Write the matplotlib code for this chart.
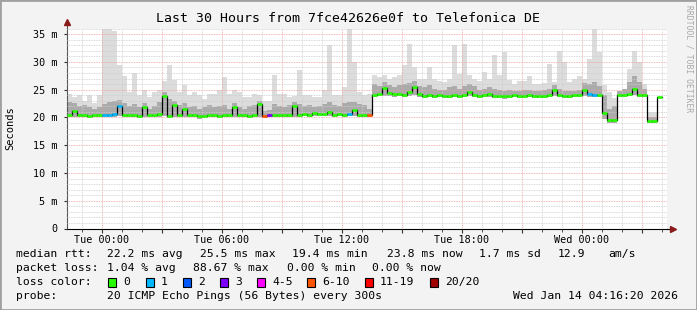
import numpy as np
import pandas as pd
import matplotlib
matplotlib.use("Agg")
import matplotlib.pyplot as plt
import matplotlib.dates as mdates
from matplotlib.patches import Rectangle
from matplotlib.ticker import MultipleLocator, FuncFormatter

plt.rcParams["font.family"] = "DejaVu Sans Mono"

title = "Last 30 Hours from 7fce42626e0f to Telefonica DE"
start = "2026-01-12 22:16:20"
step_min = 15

# median rtt per 15 min bin (ms)
med = [20.5, 21.2, 20.4, 20.4, 20.3, 20.4, 20.4, 20.5, 20.5, 20.6,
       22.0, 20.5, 20.4, 20.4, 20.3, 21.8, 20.4, 20.5, 20.6, 23.8,
       20.3, 22.3, 20.5, 21.5, 20.4, 20.4, 20.2, 20.3, 20.4, 20.4,
       20.3, 20.4, 20.4, 21.9, 20.4, 20.4, 20.3, 20.4, 22.4, 20.3,
       20.4, 20.4, 20.4, 20.5, 20.4, 22.0, 20.5, 20.6, 20.5, 20.8,
       20.7, 20.6, 21.0, 20.5, 20.6, 20.4, 20.6, 21.4, 20.5, 20.4,
       20.4, 24.0, 24.3, 25.3, 24.4, 24.2, 24.3, 24.0, 24.5, 25.4,
       24.2, 23.9, 24.1, 23.9, 24.0, 23.9, 23.9, 24.0, 23.9, 24.0,
       24.5, 24.0, 23.9, 24.0, 24.2, 23.9, 23.9, 23.8, 23.9, 24.0,
       23.9, 23.9, 24.0, 23.9, 23.9, 23.9, 24.0, 25.0, 24.0, 23.9,
       23.9, 24.0, 24.0, 25.0, 24.2, 24.1, 24.0, 20.8, 19.6, 19.6,
       24.0, 24.0, 24.3, 25.2, 24.1, 24.0, 19.4, 19.3, 23.7, np.nan]

# lowest ping per bin
lo = [20.0, 20.1, 20.0, 20.0, 19.9, 20.0, 20.0, 20.1, 20.1, 20.1,
      20.2, 20.0, 20.0, 20.0, 19.9, 20.1, 20.0, 20.0, 20.1, 20.2,
      19.9, 20.1, 20.0, 20.1, 20.0, 20.0, 19.8, 19.9, 20.0, 20.0,
      19.9, 20.0, 20.0, 20.1, 20.0, 20.0, 19.9, 20.0, 20.1, 19.9,
      20.0, 20.0, 20.0, 20.1, 20.0, 20.1, 20.1, 20.2, 20.1, 20.3,
      20.2, 20.2, 20.3, 20.1, 20.2, 20.0, 20.2, 20.3, 20.1, 20.0,
      20.0, 23.6, 23.8, 23.9, 23.9, 23.7, 23.8, 23.6, 23.9, 24.0,
      23.7, 23.5, 23.6, 23.5, 23.6, 23.5, 23.5, 23.6, 23.5, 23.6,
      23.9, 23.6, 23.5, 23.6, 23.7, 23.5, 23.5, 23.4, 23.5, 23.6,
      23.5, 23.5, 23.6, 23.5, 23.5, 23.5, 23.6, 23.9, 23.6, 23.5,
      23.5, 23.6, 23.6, 23.9, 23.7, 23.6, 23.6, 19.8, 19.0, 19.0,
      23.6, 23.6, 23.8, 24.0, 23.6, 23.6, 19.0, 19.0, 23.3, np.nan]

# upper edge of the darker smoke
mid = [22.8, 22.6, 22.0, 22.2, 21.8, 21.6, 21.8, 22.4, 22.8, 23.0,
       23.2, 22.6, 22.0, 22.4, 21.8, 22.6, 21.6, 22.0, 22.8, 24.6,
       23.4, 23.0, 22.2, 22.6, 21.8, 22.0, 21.6, 21.8, 22.2, 21.8,
       22.0, 22.2, 21.6, 22.6, 21.8, 21.6, 22.0, 22.2, 23.0, 21.2,
       21.4, 22.4, 22.0, 21.8, 22.2, 22.8, 22.4, 22.0, 22.2, 21.8,
       22.0, 22.4, 22.8, 22.2, 22.0, 22.6, 22.8, 22.8, 22.4, 22.2,
       21.6, 26.0, 25.6, 26.4, 25.8, 25.4, 25.8, 26.0, 26.2, 26.6,
       25.6, 25.4, 25.8, 25.2, 25.0, 25.0, 25.4, 25.6, 25.2, 25.6,
       26.0, 25.6, 25.0, 25.2, 25.4, 25.2, 25.0, 24.8, 25.0, 24.8,
       24.8, 24.9, 25.0, 24.8, 24.7, 25.0, 25.2, 25.8, 25.2, 24.8,
       24.7, 24.8, 25.0, 26.2, 26.0, 26.4, 25.6, 24.0, 21.5, 22.0,
       24.8, 25.2, 26.4, 27.4, 26.4, 25.2, 20.0, 20.0, 24.6, np.nan]

# highest ping per bin
hi = [24.3, 23.7, 24.0, 23.0, 24.0, 22.6, 24.0, 36.0, 36.0, 35.5,
      29.5, 27.5, 24.5, 28.0, 24.0, 25.0, 23.6, 24.5, 25.0, 26.6,
      29.5, 26.7, 24.6, 25.8, 24.0, 24.6, 24.0, 23.4, 24.3, 24.3,
      24.9, 27.2, 24.3, 24.9, 24.6, 23.6, 23.6, 24.2, 24.0, 23.0,
      23.0, 27.6, 24.3, 24.3, 23.6, 23.8, 28.5, 24.0, 24.0, 23.6,
      23.6, 25.0, 33.0, 24.0, 24.0, 25.5, 36.0, 30.0, 24.5, 24.0,
      24.3, 27.6, 27.2, 27.6, 27.0, 27.2, 27.6, 29.5, 33.3, 29.0,
      27.0, 27.0, 29.0, 27.0, 26.6, 26.4, 27.0, 33.0, 27.8, 33.3,
      27.6, 27.0, 26.6, 28.2, 27.0, 31.2, 27.6, 31.8, 26.8, 26.0,
      26.6, 26.6, 27.5, 26.0, 26.0, 26.2, 29.7, 26.4, 32.0, 30.0,
      26.4, 27.0, 27.5, 27.0, 30.5, 36.0, 31.8, 25.8, 24.6, 23.5,
      24.6, 25.0, 28.8, 32.0, 30.0, 26.0, 21.0, 21.0, 25.5, np.nan]

# lost pings out of 20 per bin
loss = [0, 0, 0, 0, 0, 0, 0, 1, 1, 1,
        1, 0, 0, 0, 0, 0, 0, 0, 0, 0,
        0, 0, 0, 0, 0, 0, 0, 0, 0, 0,
        0, 0, 0, 0, 0, 0, 0, 0, 0, 8,
        3, 0, 0, 0, 0, 0, 0, 0, 0, 0,
        0, 0, 0, 0, 0, 0, 1, 0, 0, 0,
        8, 0, 0, 0, 0, 0, 0, 0, 0, 0,
        0, 0, 0, 0, 0, 0, 0, 0, 0, 0,
        0, 0, 0, 0, 0, 0, 0, 0, 0, 0,
        0, 0, 0, 0, 0, 0, 0, 0, 0, 0,
        0, 0, 0, 0, 1, 1, 0, 0, 0, 0,
        0, 0, 0, 0, 0, 0, 0, 0, 0, 0]

loss_max = [0, 1, 2, 3, 5, 10, 19, 20]
loss_labels = ["0", "1", "2", "3", "4-5", "6-10", "11-19", "20/20"]
loss_colors = ["#26ff00", "#00b8ff", "#0059ff", "#7e00ff",
               "#ff00ff", "#ff5500", "#ff0000", "#a00000"]

rtt_stats = ["22.2 ms avg", "25.5 ms max", "19.4 ms min", "23.8 ms now",
             "1.7 ms sd", "12.9", "am/s"]
loss_stats = ["1.04 % avg", "88.67 % max", "0.00 % min", "0.00 % now"]
probe = "20 ICMP Echo Pings (56 Bytes) every 300s"
stamp = "Wed Jan 14 04:16:20 2026"

W, H = 697, 310
fig = plt.figure(figsize=(W / 100, H / 100), dpi=100, facecolor="#f3f3f3")


def fx(x):
    return x / W


def fy(y):
    return 1 - y / H


ax = fig.add_axes([fx(67), fy(228.5), 600 / W, 200 / H])
ax.set_facecolor("white")

t0 = pd.Timestamp(start)
times = t0 + pd.to_timedelta(np.arange(len(med)) * step_min, unit="min")
x = mdates.date2num(times.to_pydatetime())
dx = step_min / (24 * 60)
edges = np.append(x, x[-1] + dx)


def ext(a):
    a = np.asarray(a, dtype=float)
    return np.append(a, a[-1])


ax.fill_between(edges, ext(lo), ext(hi), step="post", color="#dcdcdc", lw=0, zorder=1)
ax.fill_between(edges, ext(lo), ext(mid), step="post", color="#ababab", lw=0, zorder=1.2)

ax.plot(x + dx / 2, med, drawstyle="steps-mid", color="black", lw=0.9, zorder=3)
cols = []
for v in loss:
    k = next(j for j, m in enumerate(loss_max) if v <= m)
    cols.append(loss_colors[k])
ax.hlines(med, x, x + dx, colors=cols, lw=1.9, zorder=4)

ax.set_xlim(mdates.date2num(t0.to_pydatetime()),
            mdates.date2num((t0 + pd.Timedelta(hours=30)).to_pydatetime()))
ax.set_ylim(0, 36)

ax.xaxis.set_major_locator(mdates.HourLocator(byhour=range(0, 24, 3)))
ax.xaxis.set_minor_locator(mdates.HourLocator())


def xlab(v, pos):
    d = mdates.num2date(v)
    return d.strftime("%a %H:%M") if d.hour % 6 == 0 else ""


ax.xaxis.set_major_formatter(FuncFormatter(xlab))
ax.yaxis.set_major_locator(MultipleLocator(5))
ax.yaxis.set_minor_locator(MultipleLocator(1))
ax.yaxis.set_major_formatter(FuncFormatter(lambda v, p: "0" if v == 0 else f"{v:.0f} m"))

ax.set_axisbelow(False)
ax.grid(which="minor", color="#cdcdcd", linestyle=(0, (1, 1)), lw=0.6)
ax.grid(which="major", color="#f0a0a0", linestyle=(0, (1, 1)), lw=0.6)

ax.tick_params(axis="both", which="both", labelsize=7.3, colors="#333333",
               labelcolor="black", direction="out")
ax.tick_params(axis="x", which="major", length=3, pad=2)
ax.tick_params(axis="x", which="minor", length=2)
ax.tick_params(axis="y", which="major", length=2, pad=5)
ax.tick_params(axis="y", which="minor", length=0)

for s in ("top", "right"):
    ax.spines[s].set_visible(False)
ax.spines["left"].set_color("#555555")
ax.spines["bottom"].set_color("black")
ax.spines["left"].set_linewidth(0.8)
ax.spines["bottom"].set_linewidth(0.8)

# axis arrows
ax.plot([0, 0], [1, 1.03], transform=ax.transAxes, color="#555555", lw=0.8, clip_on=False)
ax.plot([0], [1.035], transform=ax.transAxes, marker="^", color="#8b1a1a", ms=4, clip_on=False)
ax.plot([1, 1.008], [0, 0], transform=ax.transAxes, color="black", lw=0.8, clip_on=False)
ax.plot([1.01], [0], transform=ax.transAxes, marker=">", color="#8b1a1a", ms=4, clip_on=False)

fig.text(0.5, fy(19), title, ha="center", va="center", fontsize=9.5)
fig.text(fx(10), fy(128), "Seconds", rotation=90, ha="center", va="center", fontsize=7.5)
fig.text(fx(689), fy(5), "RRDTOOL / TOBI OETIKER", rotation=270, ha="center", va="top",
         fontsize=5.8, color="#a8a8a8")

fs = 8.2
rows = [254, 268, 282, 296]
fig.text(fx(16), fy(rows[0]), "median rtt:", va="center", fontsize=fs)
for s, xp in zip(rtt_stats, [107, 200, 292, 387, 479, 558, 608]):
    fig.text(fx(xp), fy(rows[0]), s, va="center", fontsize=fs)
fig.text(fx(16), fy(rows[1]), "packet loss:", va="center", fontsize=fs)
for s, xp in zip(loss_stats, [107, 193, 287, 372]):
    fig.text(fx(xp), fy(rows[1]), s, va="center", fontsize=fs)
fig.text(fx(16), fy(rows[2]), "loss color:", va="center", fontsize=fs)
box_x = [108, 146, 183, 220, 257, 307, 365, 430]
for bx, c, lab in zip(box_x, loss_colors, loss_labels):
    fig.patches.append(Rectangle((fx(bx), fy(rows[2] + 4.5)), 8 / W, 9 / H,
                                 transform=fig.transFigure, facecolor=c,
                                 edgecolor="black", lw=0.8))
    fig.text(fx(bx + 15), fy(rows[2]), lab, va="center", fontsize=fs)
fig.text(fx(16), fy(rows[3]), "probe:", va="center", fontsize=fs)
fig.text(fx(107), fy(rows[3]), probe, va="center", fontsize=fs)
fig.text(fx(513), fy(rows[3]), stamp, va="center", fontsize=fs)

# frame
fig.patches.append(Rectangle((0, 0), 1, 1, transform=fig.transFigure, fill=False,
                             edgecolor="#a0a0a0", lw=2))

fig.savefig("out.png", dpi=100, facecolor=fig.get_facecolor())
